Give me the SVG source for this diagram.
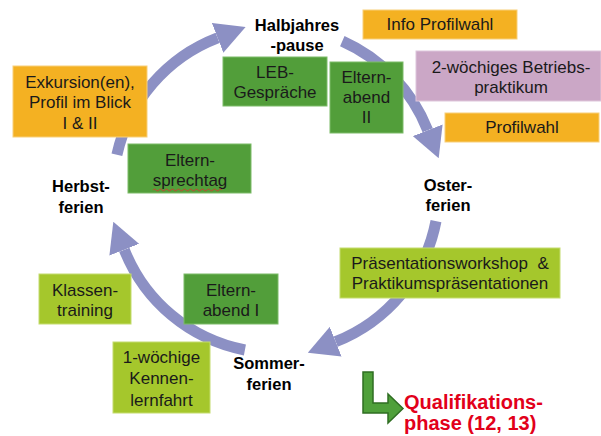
<svg xmlns="http://www.w3.org/2000/svg" width="601" height="436" viewBox="0 0 601 436">
<style>
.t{font-family:"Liberation Sans",Arial,sans-serif;font-size:17px;fill:#1a1a1a;text-anchor:middle}
.b{font-family:"Liberation Sans",Arial,sans-serif;font-size:16.5px;font-weight:bold;fill:#000;text-anchor:middle}
.q{font-family:"Liberation Sans",Arial,sans-serif;font-size:20px;font-weight:bold;fill:#E2001A}
.or{fill:#F4B122;stroke:#F8CF7A;stroke-width:1}
.dg{fill:#529E3A;stroke:#7DBB68;stroke-width:1}
.lg{fill:#A5C72C;stroke:#C4DC6E;stroke-width:1}
.pk{fill:#CBA7C6;stroke:#DEC6DB;stroke-width:1}
.arc{fill:none;stroke:#8C90C4;stroke-width:11}
</style>
<defs>
<marker id="ah" viewBox="0 0 30 32" refX="0" refY="16" markerWidth="30" markerHeight="32" markerUnits="userSpaceOnUse" orient="auto">
<path d="M0,0 L30,16 L0,32 Z" fill="#8C90C4"/>
</marker>
</defs>
<g id="connectors">
<path class="arc" d="M116.9,154.7 A163,163 0 0 1 217.6,37.8" marker-end="url(#ah)"/>
<path class="arc" d="M342.3,41.1 A163,163 0 0 1 427.7,130.3" marker-end="url(#ah)"/>
<path class="arc" d="M436,221.1 A163,163 0 0 1 335.7,341.7" marker-end="url(#ah)"/>
<path class="arc" d="M244.9,350 A163,163 0 0 1 124.3,249.7" marker-end="url(#ah)"/>
<path id="qual-arrow" d="M363,372 L373,372 L373,403 L388,403 L388,394 L403,408.5 L388,423 L388,413 L363,413 Z" fill="#4FA03A" stroke="#2F6E22" stroke-width="1.5"/>
</g>
<g id="halbjahrespause"><text class="b" x="297" y="31">Halbjahres</text><text class="b" x="297" y="51">-pause</text></g>
<g id="osterferien"><text class="b" x="448" y="191">Oster-</text><text class="b" x="448" y="211">ferien</text></g>
<g id="herbstferien"><text class="b" x="81" y="192">Herbst-</text><text class="b" x="81" y="213">ferien</text></g>
<g id="sommerferien"><text class="b" x="269" y="369">Sommer-</text><text class="b" x="269" y="390">ferien</text></g>
<g id="exkursion"><rect class="or" x="13" y="66" width="134" height="71"/><text class="t" x="80" y="88">Exkursion(en),</text><text class="t" x="80" y="108">Profil im Blick</text><text class="t" x="80" y="129">I &amp; II</text></g>
<g id="elternsprechtag"><rect class="dg" x="128" y="144" width="123" height="49"/><text class="t" x="190" y="166">Eltern-</text><text class="t" x="190" y="186">sprechtag</text><path d="M153,190 q1.5,-2 3,0 t3,0 t3,0 t3,0 t3,0 t3,0 t3,0 t3,0 t3,0 t3,0 t3,0 t3,0 t3,0 t3,0 t3,0 t3,0 t3,0 t3,0 t3,0 t3,0 t3,0 t3,0 t3,0" fill="none" stroke="#E03030" stroke-width="0.8"/></g>
<g id="leb"><rect class="dg" x="223" y="57" width="104" height="49"/><text class="t" x="275" y="78">LEB-</text><text class="t" x="275" y="98">Gespräche</text></g>
<g id="elternabend2"><rect class="dg" x="330" y="62" width="73" height="71"/><text class="t" x="366.5" y="83">Eltern-</text><text class="t" x="366.5" y="103">abend</text><text class="t" x="366.5" y="123">II</text></g>
<g id="infoprofilwahl"><rect class="or" x="363" y="10" width="154" height="29"/><text class="t" x="440" y="30">Info Profilwahl</text></g>
<g id="betriebspraktikum"><rect class="pk" x="416" y="51" width="185" height="50"/><text class="t" x="511" y="73">2-wöchiges Betriebs-</text><text class="t" x="511" y="93">praktikum</text></g>
<g id="profilwahl"><rect class="or" x="445" y="113" width="154" height="29"/><text class="t" x="522" y="133">Profilwahl</text></g>
<g id="praesentation"><rect class="lg" x="340" y="248" width="220" height="50"/><text class="t" x="450" y="269" style="white-space:pre">Präsentationsworkshop  &amp;</text><text class="t" x="450" y="289">Praktikumspräsentationen</text></g>
<g id="klassentraining"><rect class="lg" x="39" y="274" width="92" height="50"/><text class="t" x="85" y="296">Klassen-</text><text class="t" x="85" y="316">training</text></g>
<g id="elternabend1"><rect class="dg" x="184" y="274" width="94" height="50"/><text class="t" x="231" y="296">Eltern-</text><text class="t" x="231" y="316">abend  I</text></g>
<g id="kennenlernfahrt"><rect class="lg" x="113" y="342" width="97" height="71"/><text class="t" x="161.5" y="363">1-wöchige</text><text class="t" x="161.5" y="384">Kennen-</text><text class="t" x="161.5" y="406">lernfahrt</text></g>
<g id="qualifikationsphase"><text class="q" x="404" y="409">Qualifikations-</text><text class="q" x="404" y="430">phase (12, 13)</text></g>
</svg>
